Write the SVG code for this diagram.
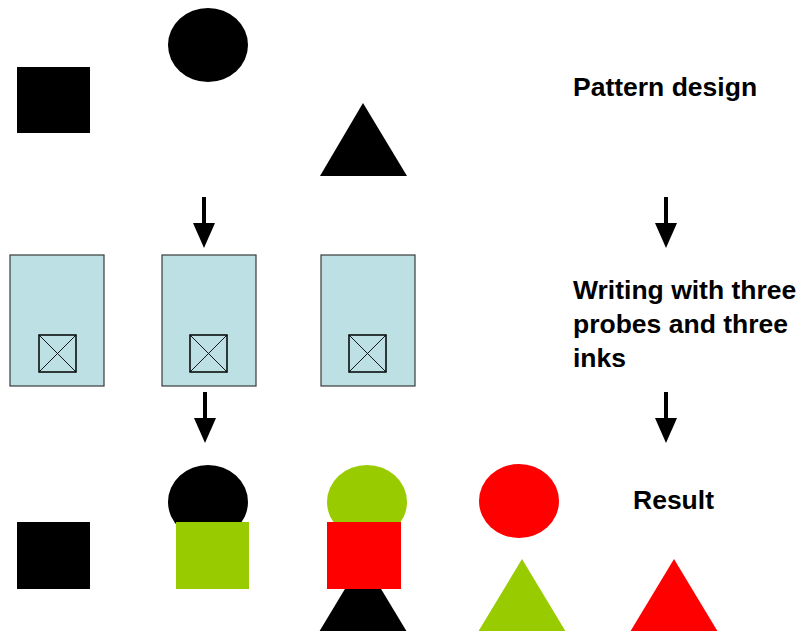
<svg xmlns="http://www.w3.org/2000/svg" width="801" height="631" viewBox="0 0 801 631">
  <style>
    .label { font-family: "Liberation Sans", Arial, sans-serif; font-weight: bold; font-size: 26.5px; fill: #000; }
    .probe { fill: #bce0e3; stroke: #3a3a3a; stroke-width: 1.2; }
    .tip { fill: none; stroke: #000; stroke-width: 1.5; }
    .tipx { stroke: #000; stroke-width: 0.9; }
    .black { fill: #000; }
    .green { fill: #99cc00; }
    .red { fill: #ff0000; }
  </style>
  <defs>
    <g id="arrow">
      <rect x="-2" y="0" width="4" height="27" fill="#000"/>
      <polygon points="-11,26 11,26 0,51" fill="#000"/>
    </g>
    <g id="tipbox">
      <rect class="tip" x="0" y="0" width="37" height="37"/>
      <line class="tipx" x1="0" y1="0" x2="37" y2="37"/>
      <line class="tipx" x1="37" y1="0" x2="0" y2="37"/>
    </g>
  </defs>

  <rect width="801" height="631" fill="#fff"/>

  <!-- pattern design -->
  <g id="design">
    <rect class="black" x="17" y="67" width="73" height="66"/>
    <ellipse class="black" cx="208" cy="45" rx="40" ry="37"/>
    <polygon class="black" points="363,103 407,176 320,176"/>
  </g>

  <!-- probes -->
  <g id="probe1">
    <rect class="probe" x="10" y="255" width="94" height="131"/>
    <use href="#tipbox" x="39" y="335"/>
  </g>
  <g id="probe2">
    <rect class="probe" x="162" y="255" width="94" height="131"/>
    <use href="#tipbox" x="190" y="335"/>
  </g>
  <g id="probe3">
    <rect class="probe" x="321" y="255" width="94" height="131"/>
    <use href="#tipbox" x="349" y="335"/>
  </g>

  <!-- written result -->
  <g id="result">
    <rect class="black" x="17" y="522" width="73" height="67"/>
    <polygon class="black" points="363,559 407,632 319,632"/>
    <ellipse class="black" cx="208" cy="502" rx="40" ry="37"/>
    <rect class="green" x="176" y="522" width="73" height="67"/>
    <ellipse class="green" cx="367" cy="502" rx="40" ry="37"/>
    <rect class="red" x="327" y="522" width="74" height="67"/>
    <ellipse class="red" cx="519" cy="501" rx="40" ry="37"/>
    <polygon class="green" points="522,559 566,632 478,632"/>
    <polygon class="red" points="674,559 718,632 630,632"/>
  </g>

  <!-- connectors -->
  <g id="connectors">
    <use href="#arrow" x="204" y="197"/>
    <use href="#arrow" x="666" y="197"/>
    <use href="#arrow" x="205" y="392"/>
    <use href="#arrow" x="666" y="392"/>
  </g>

  <!-- step labels -->
  <g id="labels">
    <text class="label" x="573" y="96">Pattern design</text>
    <text class="label" x="573" y="299">Writing with three</text>
    <text class="label" x="573" y="333">probes and three</text>
    <text class="label" x="573" y="367">inks</text>
    <text class="label" x="633" y="509">Result</text>
  </g>
</svg>
